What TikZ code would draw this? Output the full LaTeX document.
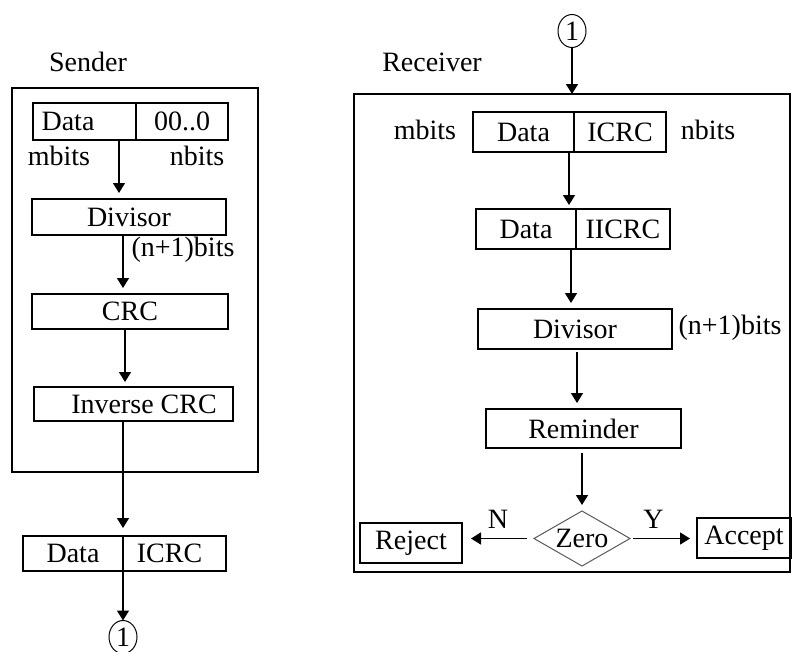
\documentclass[tikz,border=0pt]{standalone}
\usepackage{fontspec}
\setmainfont{Liberation Serif}
\usetikzlibrary{arrows.meta,shapes.geometric}

\begin{document}
\begin{tikzpicture}[x=1pt, y=-1pt, >={Triangle[width=12pt,length=10pt]},
    box/.style={rectangle, draw, line width=1.6pt, inner sep=0pt, outer sep=0pt},
    frame/.style={rectangle, draw, line width=1.6pt, inner sep=0pt, outer sep=0pt},
    conn/.style={ellipse, draw, line width=1pt, inner sep=0pt, outer sep=0pt, minimum width=28pt, minimum height=33pt},
    decision/.style={diamond, draw=gray!70!black, line width=1pt, inner sep=0pt, outer sep=0pt, aspect=1.75, minimum width=96pt, minimum height=55pt},
    flow/.style={->, line width=1.5pt}]
        \tikzstyle{every node}=[font=\fontsize{28}{32}\selectfont]
        \useasboundingbox (0,0) rectangle (792,651);

          % sender side
          \node (stitle) at (88,62) {Sender};
          \node[frame, minimum width=246pt, minimum height=384pt] (sframe) at (135,280) {};
          \node[box, minimum width=103pt, minimum height=37pt] (sdata) at (84.5,121.5) {Data\kern33pt};
          \node[box, minimum width=92pt, minimum height=37pt] (szeros) at (182,121.5) {00..0};
          \node (smbits) at (59,156) {mbits};
          \node (snbits) at (197,156) {nbits};
          \node[box, minimum width=194pt, minimum height=36pt] (sdiv) at (129,217) {Divisor};
          \node (sdivbits) at (183,250) {(n+1)bits};
          \node[box, minimum width=196pt, minimum height=35pt] (scrc) at (130,311.5) {CRC};
          \node[box, minimum width=199pt, minimum height=34pt] (sinv) at (133.5,404) {\kern21pt Inverse CRC};
          \node[box, minimum width=100pt, minimum height=35pt] (sodata) at (73,553.5) {Data};
          \node[box, minimum width=103pt, minimum height=35pt] (socrc) at (174.5,553.5) {ICRC\kern10pt};
          \node[conn] (sout) at (123,637) {1};

          \path[flow]
            ([xshift=-17pt]sdata.south east) edge ([xshift=-10pt,yshift=6pt]sdiv.north)
            ([xshift=-6pt]sdiv.south) edge ([xshift=-7pt,yshift=6pt]scrc.north)
            ([xshift=-5pt]scrc.south) edge ([xshift=-8.5pt,yshift=5pt]sinv.north)
            ([xshift=-10.5pt]sinv.south) edge ([yshift=8pt]socrc.north west)
            (socrc.south west) edge (sout.north);

          % receiver side
          \node (rtitle) at (432,62) {Receiver};
          \node[conn] (rin) at (572,31) {1};
          \node[frame, minimum width=436pt, minimum height=478pt] (rframe) at (572,333) {};
          \node[box, minimum width=101pt, minimum height=40pt] (rdata) at (523.5,132) {Data};
          \node[box, minimum width=92pt, minimum height=40pt] (rcrc) at (620,132) {ICRC};
          \node (rmbits) at (425,130) {mbits};
          \node (rnbits) at (708,130) {nbits};
          \node[box, minimum width=100pt, minimum height=40pt] (rdata2) at (526,229) {Data};
          \node[box, minimum width=94pt, minimum height=40pt] (rcrc2) at (623,229) {IICRC};
          \node[box, minimum width=194pt, minimum height=40pt] (rdiv) at (575,329) {Divisor};
          \node (rdivbits) at (730,328) {(n+1)bits};
          \node[box, minimum width=195pt, minimum height=39pt] (rrem) at (583.5,428.5) {Reminder};
          \node[decision] (rzero) at (582,538.5) {Zero};
          \node[box, minimum width=102pt, minimum height=40pt] (rreject) at (411,543) {Reject};
          \node[box, minimum width=94pt, minimum height=40pt] (raccept) at (744,538) {Accept};

          \path[flow]
            (rin.south) edge (rin.south |- rframe.north)
            ([xshift=-5pt]rdata.south east) edge ([xshift=-7pt,yshift=4pt]rdata2.north east)
            ([xshift=-5pt]rdata2.south east) edge ([xshift=-4pt,yshift=6pt]rdiv.north)
            ([xshift=2pt,yshift=-3pt]rdiv.south) edge ([xshift=-6.5pt,yshift=6pt]rrem.north)
            ([xshift=-1.5pt,yshift=-5pt]rrem.south) edge ([yshift=6pt]rzero.north)
            (rzero.west) edge[shorten <=7pt, shorten >=9pt] node[above=6pt] {N} (rzero.west -| rreject.east)
            (rzero.east) edge[shorten <=3pt, shorten >=7pt] node[pos=0.35, above=6pt] {Y} (rzero.east -| raccept.west);

        \end{tikzpicture}
\end{document}
